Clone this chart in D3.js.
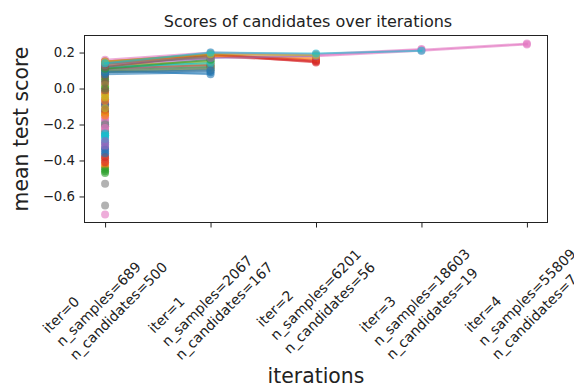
<!DOCTYPE html>
<html>
<head>
<meta charset="utf-8">
<script src="https://cdn.jsdelivr.net/npm/d3@7"></script>
<style>
  html, body { margin: 0; padding: 0; background: #fff; }
  svg { display: block; }
  text { font-family: "DejaVu Sans", sans-serif; }
</style>
</head>
<body>
<svg id="chart" width="574" height="387"></svg>
<script>
// Successive-halving rounds
const iterations = [0, 1, 2, 3, 4];
const nSamples = [689, 2067, 6201, 18603, 55809];
const nCandidates = [500, 167, 56, 19, 7];
const yTicks = [-0.6, -0.4, -0.2, 0.0, 0.2];

// Mean test score of each candidate, one entry per round it survived
const candidateScores = [
  [-0.33], [-0.40], [-0.44], [-0.21], [-0.35], [0.06], [-0.16], [-0.24], [-0.13], [-0.27],
  [-0.08], [-0.43], [-0.45], [-0.14], [-0.31], [0.04], [-0.18], [-0.23], [-0.01], [-0.20],
  [-0.37], [-0.42], [0.01], [-0.06], [-0.39], [-0.02], [-0.10], [-0.19], [-0.04], [-0.30],
  [-0.12], [-0.39], [-0.47], [-0.09], [-0.33], [0.07], [-0.21], [-0.25], [-0.14], [-0.26],
  [-0.09], [-0.03], [0.05], [-0.12], [-0.30], [0.075], [-0.17], [-0.20], [0.02], [-0.26],
  [-0.34], [-0.07], [0.00], [-0.38], [-0.32], [0.03], [-0.22], [-0.53], [-0.05], [-0.28],
  [-0.36], [-0.15], [-0.46], [-0.41], [-0.29], [-0.01], [-0.70], [-0.65], [-0.11], [-0.25],
  [0.10, 0.08],
  [0.12, 0.13],
  [0.09, 0.11],
  [0.13, 0.18, 0.15],
  [0.11, 0.12],
  [0.14, 0.17],
  [0.12, 0.19, 0.18, 0.21, 0.245],
  [0.09, 0.10],
  [0.13, 0.14],
  [0.11, 0.15],
  [0.08, 0.09],
  [0.15, 0.185, 0.16],
  [0.10, 0.12],
  [0.14, 0.19, 0.145],
  [0.12, 0.16],
  [0.11, 0.13],
  [0.15, 0.195, 0.185, 0.215, 0.25],
  [0.10, 0.11],
  [0.13, 0.15],
  [0.12, 0.14],
  [0.09, 0.10],
  [0.14, 0.18, 0.17],
  [0.11, 0.16],
  [0.15, 0.19, 0.155],
  [0.13, 0.17, 0.18],
  [0.12, 0.185],
  [0.16, 0.20, 0.19, 0.22],
  [0.14, 0.175],
  [0.15, 0.19, 0.185],
  [0.14, 0.20, 0.195, 0.21]
];

const svg = d3.select("#chart");
const plot = { left: 84, right: 548, top: 35, bottom: 223 };
const ink = "#222";

// Axis limits with 5% margins on each side
const xPad = (d3.max(iterations) - d3.min(iterations)) * 0.05;
const x = d3.scaleLinear()
  .domain([d3.min(iterations) - xPad, d3.max(iterations) + xPad])
  .range([plot.left, plot.right]);

const allScores = candidateScores.flat();
const [yMin, yMax] = d3.extent(allScores);
const yPad = (yMax - yMin) * 0.05;
const y = d3.scaleLinear()
  .domain([yMin - yPad, yMax + yPad])
  .range([plot.bottom, plot.top]);

const color = d3.scaleOrdinal(d3.schemeCategory10);

// Candidate trajectories: line then markers, drawn in order
const line = d3.line()
  .x((d, k) => x(iterations[k]))
  .y(d => y(d));

const marks = svg.append("g");
candidateScores.forEach((scores, i) => {
  const g = marks.append("g");
  const c = color(i % 10);
  if (scores.length > 1) {
    g.append("path")
      .attr("d", line(scores))
      .attr("fill", "none")
      .attr("stroke", c)
      .attr("stroke-width", 2)
      .attr("stroke-opacity", 0.6)
      .attr("stroke-linejoin", "round")
      .attr("stroke-linecap", "square");
  }
  g.selectAll("circle")
    .data(scores)
    .join("circle")
    .attr("cx", (d, k) => x(iterations[k]))
    .attr("cy", d => y(d))
    .attr("r", 4)
    .attr("fill", c)
    .attr("fill-opacity", 0.6);
});

// Frame
svg.append("rect")
  .attr("x", plot.left + 0.5)
  .attr("y", plot.top + 0.5)
  .attr("width", plot.right - plot.left - 1)
  .attr("height", plot.bottom - plot.top - 1)
  .attr("fill", "none")
  .attr("stroke", ink)
  .attr("stroke-width", 1);

// Y axis
const yAxis = svg.append("g")
  .attr("transform", `translate(${plot.left},0)`)
  .call(d3.axisLeft(y).tickValues(yTicks).tickSize(4.5).tickPadding(4.5)
    .tickFormat(d3.format(".1f")));
yAxis.select(".domain").remove();
yAxis.selectAll(".tick line").attr("stroke", ink);
yAxis.selectAll(".tick text")
  .attr("font-size", 13.3)
  .attr("font-family", "DejaVu Sans, sans-serif")
  .attr("fill", ink);

// X axis ticks
const xAxis = svg.append("g")
  .attr("transform", `translate(0,${plot.bottom})`)
  .call(d3.axisBottom(x).tickValues(iterations).tickSize(4.5).tickFormat(""));
xAxis.select(".domain").remove();
xAxis.selectAll(".tick line").attr("stroke", ink);

// Rotated three-line tick labels, centred under each tick
const tickLabels = svg.append("g");
iterations.forEach((it, i) => {
  const outer = tickLabels.append("g");
  const inner = outer.append("g").attr("transform", "rotate(-45)");
  const t = inner.append("text")
    .attr("font-size", 14)
    .attr("fill", ink);
  const rows = [`iter=${it}`, `n_samples=${nSamples[i]}`, `n_candidates=${nCandidates[i]}`];
  rows.forEach((s, k) => {
    t.append("tspan").attr("x", 0).attr("dy", k === 0 ? 0 : 19).text(s);
  });
  const bb = outer.node().getBBox();
  outer.attr("transform",
    `translate(${x(it) - (bb.x + bb.width / 2)},${plot.bottom + 4.5 + 4.5 - bb.y})`);
});

// Titles
svg.append("text")
  .attr("x", 308)
  .attr("y", 27)
  .attr("text-anchor", "middle")
  .attr("font-size", 16)
  .attr("fill", ink)
  .text("Scores of candidates over iterations");

svg.append("text")
  .attr("x", (plot.left + plot.right) / 2)
  .attr("y", 383)
  .attr("text-anchor", "middle")
  .attr("font-size", 20.4)
  .attr("fill", ink)
  .text("iterations");

svg.append("text")
  .attr("transform", `translate(28,${(plot.top + plot.bottom) / 2}) rotate(-90)`)
  .attr("text-anchor", "middle")
  .attr("font-size", 20.4)
  .attr("fill", ink)
  .text("mean test score");
</script>
</body>
</html>
